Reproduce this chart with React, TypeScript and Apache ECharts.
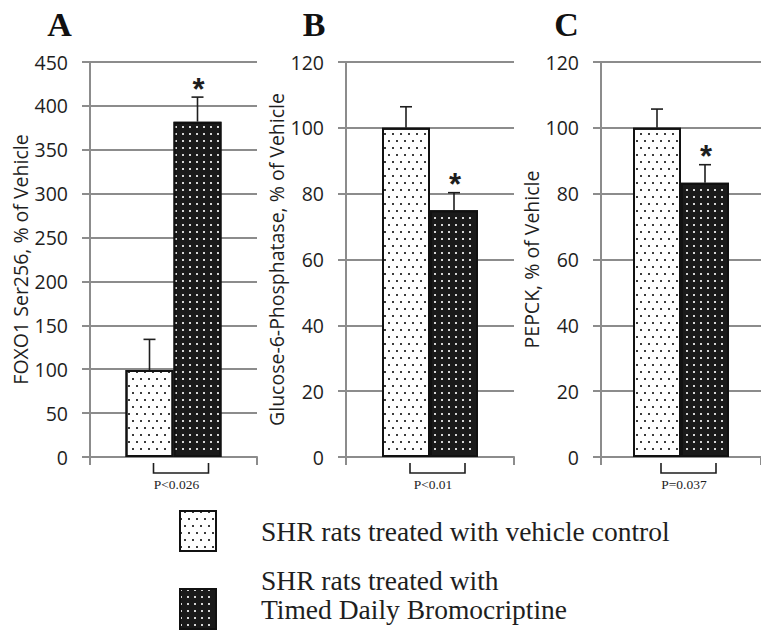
import React, { useEffect, useRef } from "react";
import * as echarts from "echarts";

// ---- data ----
const panelLetters = ["A", "B", "C"];
const yAxisNames = [
  "FOXO1 Ser256, % of Vehicle",
  "Glucose-6-Phosphatase, % of Vehicle",
  "PEPCK, % of Vehicle",
];
const pValueLabels = ["P<0.026", "P<0.01", "P=0.037"];
const yMaxValues = [450, 120, 120];
const yIntervals = [50, 20, 20];
const vehicleMeans = [99, 100, 100];
const vehicleErrors = [35, 6.4, 5.7];
const bromoMeans = [382, 75, 83.3];
const bromoErrors = [28, 5.3, 5.5];
const significant = [true, true, true];
const seriesNames = [
  "SHR rats treated with vehicle control",
  "SHR rats treated with\nTimed Daily Bromocriptine",
];

// ---- layout / style ----
const GRID_LEFTS = [90, 346, 601];
const GRID_WIDTHS = [167, 168, 171];
const LETTER_X = [59.5, 314, 566.5];
const GRID_TOP = 62;
const GRID_H = 395;
const BAR_W = 48;
const GRAY = "#8c8c8c";
const INK = "#1e1e1e";
const SANS = "'Open Sans', 'Liberation Sans', sans-serif";
const SERIF = "'Liberation Serif', 'Times New Roman', serif";

const vehicleDecal = {
  symbol: "rect",
  symbolSize: 1,
  color: "#3c3c3c",
  dashArrayX: [
    [2, 6],
    [0, 4, 2, 2],
  ],
  dashArrayY: [2, 5],
  rotation: 0,
};
const bromoDecal = {
  symbol: "rect",
  symbolSize: 1,
  color: "#d6d6d6",
  dashArrayX: [2, 5],
  dashArrayY: [2, 5],
  rotation: 0,
};

export default function App() {
  const ref = useRef<HTMLDivElement>(null);
  useEffect(() => {
    if (!ref.current) return;
    const chart = echarts.init(ref.current, undefined, { renderer: "svg" });

    const grids: any[] = [];
    const xAxes: any[] = [];
    const yAxes: any[] = [];
    const series: any[] = [];

    panelLetters.forEach((_, i) => {
      grids.push({
        left: GRID_LEFTS[i],
        top: GRID_TOP,
        width: GRID_WIDTHS[i],
        height: GRID_H,
        containLabel: false,
      });
      xAxes.push({
        type: "category",
        gridIndex: i,
        data: [pValueLabels[i]],
        axisLine: { show: true, lineStyle: { color: GRAY, width: 2 } },
        axisTick: { show: true, length: 8, lineStyle: { color: GRAY, width: 2 } },
        axisLabel: {
          margin: 20,
          fontFamily: SERIF,
          fontSize: 13.5,
          color: INK,
          padding: [0, 0, 0, 6],
        },
      });
      yAxes.push({
        type: "value",
        gridIndex: i,
        min: 0,
        max: yMaxValues[i],
        interval: yIntervals[i],
        name: yAxisNames[i],
        nameLocation: "middle",
        nameGap: 59,
        nameTextStyle: { fontFamily: SANS, fontSize: 19.5, color: INK },
        axisLine: { show: true, lineStyle: { color: GRAY, width: 2 } },
        axisTick: { show: true, length: 8, lineStyle: { color: GRAY, width: 2 } },
        splitLine: { show: true, lineStyle: { color: GRAY, width: 2 } },
        axisLabel: { margin: 22, fontFamily: SANS, fontSize: 19.5, color: INK },
      });
      series.push({
        type: "bar",
        name: seriesNames[0],
        xAxisIndex: i,
        yAxisIndex: i,
        barWidth: BAR_W,
        barGap: "0%",
        data: [vehicleMeans[i]],
        itemStyle: {
          color: "#ffffff",
          borderColor: "#111111",
          borderWidth: 2,
          decal: vehicleDecal,
        },
        z: 2,
      });
      series.push({
        type: "bar",
        name: seriesNames[1],
        xAxisIndex: i,
        yAxisIndex: i,
        barWidth: BAR_W,
        barGap: "0%",
        data: [bromoMeans[i]],
        itemStyle: {
          color: "#1a1a1a",
          borderColor: "#111111",
          borderWidth: 2,
          decal: bromoDecal,
        },
        z: 2,
      });
      series.push({
        type: "custom",
        xAxisIndex: i,
        yAxisIndex: i,
        z: 5,
        clip: false,
        data: [[0, vehicleMeans[i], vehicleErrors[i], bromoMeans[i], bromoErrors[i], significant[i] ? 1 : 0]],
        renderItem: (params: any, api: any) => {
          const base = api.coord([0, 0]);
          const cx = base[0];
          const y0 = base[1];
          const vx = cx - BAR_W / 2;
          const bx = cx + BAR_W / 2;
          const vTop = api.coord([0, api.value(1)])[1];
          const vErr = api.coord([0, api.value(1) + api.value(2)])[1];
          const bTop = api.coord([0, api.value(3)])[1];
          const bErr = api.coord([0, api.value(3) + api.value(4)])[1];
          const ls = { stroke: INK, lineWidth: 1.6 };
          const cap = 6;
          const children: any[] = [
            { type: "line", shape: { x1: vx, y1: vTop, x2: vx, y2: vErr }, style: ls },
            { type: "line", shape: { x1: vx - cap, y1: vErr, x2: vx + cap, y2: vErr }, style: ls },
            { type: "line", shape: { x1: bx, y1: bTop, x2: bx, y2: bErr }, style: ls },
            { type: "line", shape: { x1: bx - cap, y1: bErr, x2: bx + cap, y2: bErr }, style: ls },
            {
              type: "polyline",
              shape: {
                points: [
                  [cx - 20, y0 + 6],
                  [cx - 20, y0 + 16],
                  [cx + 35, y0 + 16],
                  [cx + 35, y0 + 6],
                ],
              },
              style: { stroke: INK, lineWidth: 1.6, fill: "none" },
            },
          ];
          if (api.value(5)) {
            children.push({
              type: "text",
              x: bx + 1,
              y: bErr - 8,
              style: {
                text: "*",
                fill: INK,
                font: "bold 31px 'Liberation Sans', sans-serif",
                align: "center",
                verticalAlign: "middle",
                textAlign: "center",
                textVerticalAlign: "middle",
              },
            });
          }
          return { type: "group", children };
        },
      });
    });

    const graphic = panelLetters.map((t, i) => ({
      type: "text",
      x: LETTER_X[i],
      y: 24,
      style: {
        text: t,
        fill: "#111",
        font: `bold 34px ${SERIF}`,
        align: "center",
        verticalAlign: "middle",
        textAlign: "center",
        textVerticalAlign: "middle",
      },
    }));

    chart.setOption({
      animation: false,
      backgroundColor: "#ffffff",
      grid: grids,
      xAxis: xAxes,
      yAxis: yAxes,
      series,
      graphic,
      legend: {
        orient: "vertical",
        left: 179,
        top: 510,
        height: 200,
        padding: 0,
        itemWidth: 36,
        itemHeight: 40,
        itemGap: 13.5,
        icon: "rect",
        selectedMode: false,
        itemStyle: { borderWidth: 2, borderColor: "#111111" },
        textStyle: {
          fontFamily: SERIF,
          fontSize: 27.5,
          color: INK,
          lineHeight: 29,
          padding: [0, 0, 0, 40],
        },
        // two-line entry: an empty trailing line lifts the text block so the
        // second line sits level with the swatch, as in the reference
        formatter: (name: string) => (name.indexOf("\n") >= 0 ? name + "\n " : name),
        data: [seriesNames[0], seriesNames[1]],
      },
    });
    return () => chart.dispose();
  }, []);
  return (
    <div
      ref={ref}
      style={{ position: "absolute", left: 0, top: 0, width: 761, height: 635 }}
    />
  );
}
